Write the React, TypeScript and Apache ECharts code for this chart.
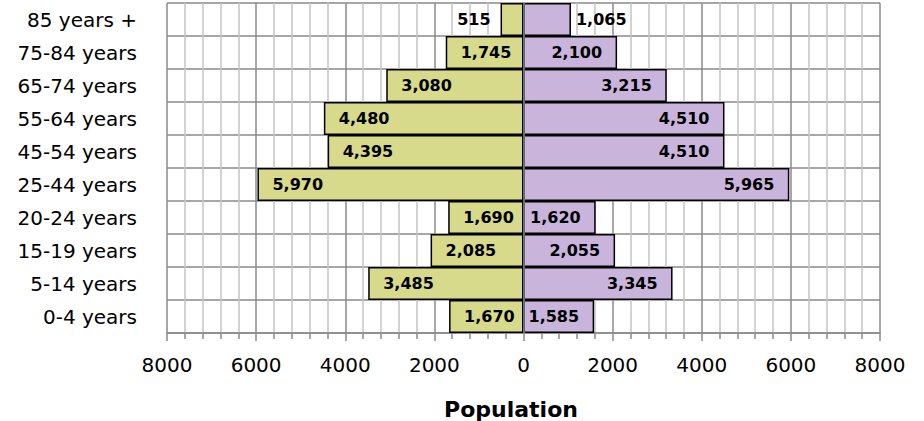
import React, { useEffect, useRef } from "react";
import * as echarts from "echarts";

const categories = [
  "0-4 years",
  "5-14 years",
  "15-19 years",
  "20-24 years",
  "25-44 years",
  "45-54 years",
  "55-64 years",
  "65-74 years",
  "75-84 years",
  "85 years +",
];
const leftValues = [1670, 3485, 2085, 1690, 5970, 4395, 4480, 3080, 1745, 515];
const rightValues = [1585, 3345, 2055, 1620, 5965, 4510, 4510, 3215, 2100, 1065];
const axisTitle = "Population";

const FONT = "'DejaVu Sans', sans-serif";
const fmt = (v: number) => Math.abs(v).toLocaleString("en-US");

export default function App() {
  const ref = useRef<HTMLDivElement>(null);
  useEffect(() => {
    document.body.style.margin = "0";
    if (!ref.current) return;
    const chart = echarts.init(ref.current, null, { renderer: "svg" });
    const labelBase = {
      show: true,
      color: "#000",
      fontFamily: FONT,
      fontWeight: "bold" as const,
      fontSize: 16,
      formatter: (p: any) => fmt(p.value),
    };
    const leftData = leftValues.map((v) => ({
      value: -v,
      label: v < 1200 ? { position: "left", distance: 10 } : { position: "insideLeft", distance: 15 },
    }));
    const rightData = rightValues.map((v) => ({
      value: v,
      label: v < 1200 ? { position: "right", distance: 5 } : { position: "insideRight", distance: 15 },
    }));
    chart.setOption({
      animation: false,
      grid: { left: 167, right: 44, top: 3, bottom: 88, containLabel: false },
      xAxis: {
        type: "value",
        min: -8000,
        max: 8000,
        interval: 2000,
        axisLine: { show: true, lineStyle: { color: "#8a8a8a", width: 1.5 } },
        axisTick: { show: true, length: 8, lineStyle: { color: "#8a8a8a", width: 1.5 } },
        minorTick: { show: true, splitNumber: 5, length: 6, lineStyle: { color: "#8a8a8a", width: 1.5 } },
        splitLine: { show: true, lineStyle: { color: "#8a8a8a", width: 1.5 } },
        minorSplitLine: { show: true, lineStyle: { color: "#c4c4c4", width: 1.5 } },
        axisLabel: {
          margin: 22,
          color: "#000",
          fontFamily: FONT,
          fontSize: 20,
          formatter: (v: number) => String(Math.abs(v)),
        },
      },
      yAxis: {
        type: "category",
        data: categories,
        axisLine: { show: true, lineStyle: { color: "#8a8a8a", width: 1.5 } },
        axisTick: { show: false },
        splitLine: { show: true, interval: 0, lineStyle: { color: "#8a8a8a", width: 1.5 } },
        axisLabel: {
          margin: 30,
          color: "#000",
          fontFamily: FONT,
          fontSize: 20,
          interval: 0,
        },
      },
      series: [
        {
          type: "bar",
          stack: "pop",
          data: leftData,
          barCategoryGap: 0,
          itemStyle: { color: "#d8da8b", borderColor: "#000", borderWidth: 1.5 },
          label: labelBase,
        },
        {
          type: "bar",
          stack: "pop",
          data: rightData,
          barCategoryGap: 0,
          itemStyle: { color: "#c9b5dc", borderColor: "#000", borderWidth: 1.5 },
          label: labelBase,
          markLine: {
            silent: true,
            symbol: ["none", "none"],
            label: { show: false },
            lineStyle: { color: "#8a8a8a", type: "solid", width: 1.5 },
            data: [{ xAxis: 0 }],
          },
        },
      ],
      graphic: [
        {
          type: "text",
          x: 511,
          y: 409,
          style: {
            text: axisTitle,
            textAlign: "center",
            textVerticalAlign: "middle",
            fontFamily: FONT,
            fontWeight: "bold",
            fontSize: 22,
            fill: "#000",
          },
        },
      ],
    });
    return () => chart.dispose();
  }, []);
  return <div ref={ref} style={{ width: 924, height: 421 }} />;
}
